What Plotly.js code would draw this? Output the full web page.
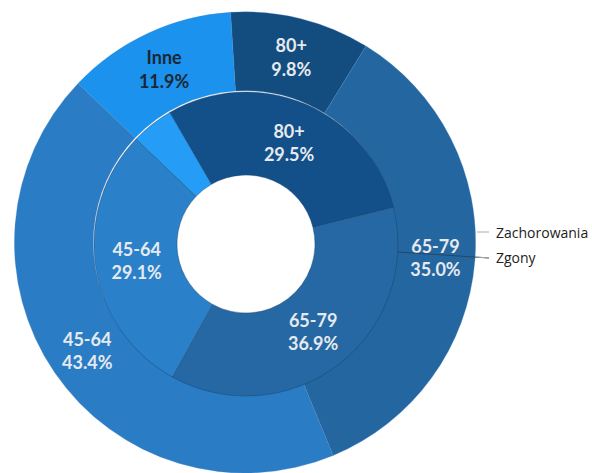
<!DOCTYPE html>
<html>
<head>
<meta charset="utf-8">
<script src="https://cdn.plot.ly/plotly-3.0.1.min.js"></script>
<style>html,body{margin:0;padding:0;background:#fff;}#chart{width:592px;height:473px;}</style>
</head>
<body>
<div id="chart"></div>
<script>
const groups = ['80+', '65-79', '45-64', 'Inne'];
const zachorowania = [9.8, 35.0, 43.4, 11.9];
const zgony = [29.5, 36.9, 29.1, 4.5];
const seriesNames = ['Zachorowania', 'Zgony'];

const outerColors = ['#134d80', '#2466a0', '#2a7cc4', '#1a92ee'];
const innerColors = ['#13508a', '#2568a3', '#2a80c9', '#259cf5'];
const textColors = ['#e6eaee', '#e6eaee', '#e6eaee', '#1c2733'];

function labelsFor(vals, showMin) {
  return vals.map((v, i) => v >= showMin ? groups[i] + '<br>' + v.toFixed(1) + '%' : '');
}

const W = 592, H = 473;
const outer = {
  type: 'pie', name: seriesNames[0], labels: groups, values: zachorowania,
  sort: false, direction: 'clockwise', rotation: -3.6,
  hole: 152/231,
  domain: {x: [14/W, 476/W], y: [0, 0.975]},
  marker: {colors: outerColors, line: {color: 'rgba(70,130,190,0.6)', width: 0.5}},
  text: labelsFor(zachorowania, 0), textinfo: 'text',
  textposition: 'inside', insidetextorientation: 'horizontal',
  textfont: {family: 'Lato', size: 18, weight: 'bold', color: textColors},
  hoverinfo: 'none', showlegend: false
};
const inner = {
  type: 'pie', name: seriesNames[1], labels: groups, values: zgony,
  sort: false, direction: 'clockwise', rotation: -30.1,
  hole: 69/152,
  domain: {x: [94/W, 398/W], y: [77/H, 381/H]},
  marker: {colors: innerColors, line: {color: 'rgba(20,60,100,0.5)', width: 0.8}},
  text: labelsFor(zgony, 10), textinfo: 'text',
  textposition: 'inside', insidetextorientation: 'horizontal',
  textfont: {family: 'Lato', size: 18, weight: 'bold', color: textColors},
  hoverinfo: 'none', showlegend: false
};

const px = x => x / W, py = y => 1 - y / H;
const layout = {
  width: W, height: H,
  margin: {l: 0, r: 0, t: 0, b: 0},
  paper_bgcolor: '#ffffff',
  showlegend: false,
  shapes: [
    {type: 'line', xref: 'paper', yref: 'paper', x0: px(477), y0: py(232), x1: px(489), y1: py(232), line: {color: '#aaaaaa', width: 1}},
    {type: 'line', xref: 'paper', yref: 'paper', x0: px(398), y0: py(252), x1: px(489), y1: py(258), line: {color: '#2a4560', width: 1}},
    {type: 'line', xref: 'paper', yref: 'paper', x0: px(477), y0: py(257), x1: px(489), y1: py(258), line: {color: '#aaaaaa', width: 1}}
  ],
  annotations: [
    {text: seriesNames[0], xref: 'paper', yref: 'paper', x: px(494), y: py(232), xanchor: 'left', yanchor: 'middle', showarrow: false, font: {family: 'Open Sans', size: 14, color: '#222222'}},
    {text: seriesNames[1], xref: 'paper', yref: 'paper', x: px(494), y: py(257), xanchor: 'left', yanchor: 'middle', showarrow: false, font: {family: 'Open Sans', size: 14, color: '#222222'}}
  ]
};
Plotly.newPlot('chart', [outer, inner], layout, {displayModeBar: false, staticPlot: true});
</script>
</body>
</html>
